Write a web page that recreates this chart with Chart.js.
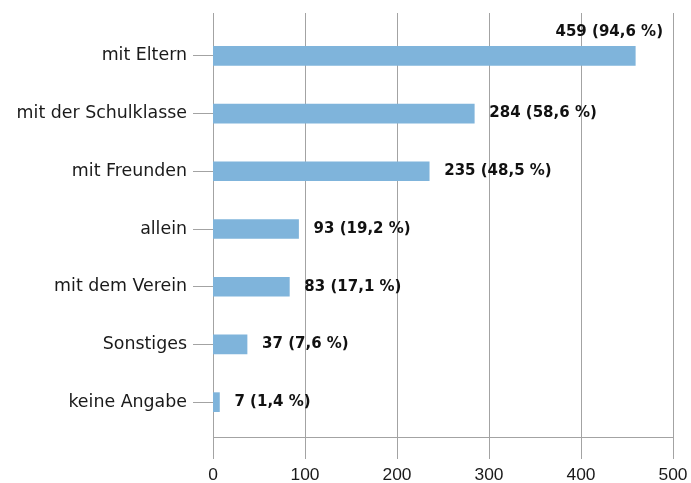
<!DOCTYPE html>
<html><head><meta charset="utf-8">
<script src="https://cdn.jsdelivr.net/npm/chart.js@4.4.0/dist/chart.umd.min.js"></script>
<style>html,body{margin:0;padding:0;background:#fff}#wrap{width:691px;height:483px}</style>
</head><body><div id="wrap"><canvas id="c" width="691" height="483"></canvas></div>
<script>
const categories = ['mit Eltern','mit der Schulklasse','mit Freunden','allein','mit dem Verein','Sonstiges','keine Angabe'];
const counts = [459, 284, 235, 93, 83, 37, 7];
const percents = [94.6, 58.6, 48.5, 19.2, 17.1, 7.6, 1.4];
const xTicks = [0, 100, 200, 300, 400, 500];

const GRID = '#a3a3a3';
const TEXT = '#1a1a1a';

const gridPlugin = {
  id: 'gridPlugin',
  beforeDatasetsDraw(chart) {
    const {ctx, chartArea: a, scales: {x}} = chart;
    ctx.save();
    ctx.strokeStyle = GRID;
    ctx.lineWidth = 1;
    ctx.beginPath();
    xTicks.forEach(v => {
      const px = Math.round(x.getPixelForValue(v)) + 0.5;
      ctx.moveTo(px, a.top - 14);
      ctx.lineTo(px, a.bottom + 28);
    });
    const py = Math.round(a.bottom + 6) + 0.5;
    ctx.moveTo(x.getPixelForValue(xTicks[0]), py);
    ctx.lineTo(x.getPixelForValue(xTicks[xTicks.length - 1]), py);
    ctx.stroke();
    ctx.restore();
  }
};

const labelPlugin = {
  id: 'labelPlugin',
  afterDatasetsDraw(chart) {
    const {ctx, chartArea: a} = chart;
    const meta = chart.getDatasetMeta(0);
    ctx.save();
    ctx.font = 'bold 15px "DejaVu Sans"';
    ctx.fillStyle = '#111';
    ctx.textBaseline = 'middle';
    meta.data.forEach((bar, i) => {
      const txt = counts[i] + ' (' + percents[i].toFixed(1).replace('.', ',') + ' %)';
      const w = ctx.measureText(txt).width;
      let lx = bar.x + 15, ly = bar.y;
      if (lx + w > a.right) {
        ctx.textAlign = 'right';
        lx = a.right - 10;
        ly = bar.y - 24;
      } else {
        ctx.textAlign = 'left';
      }
      ctx.fillText(txt, lx, ly);
    });
    ctx.restore();
  }
};

new Chart(document.getElementById('c'), {
  type: 'bar',
  data: {
    labels: categories,
    datasets: [{
      data: counts,
      backgroundColor: '#7fb4db',
      borderWidth: 0,
      barThickness: 19
    }]
  },
  options: {
    indexAxis: 'y',
    responsive: false,
    devicePixelRatio: 1,
    animation: false,
    layout: {padding: {top: 27, right: 18, left: 0, bottom: 0}},
    plugins: {legend: {display: false}, tooltip: {enabled: false}},
    scales: {
      x: {
        type: 'linear',
        min: 0,
        max: 500,
        afterBuildTicks: s => { s.ticks = xTicks.map(v => ({value: v})); },
        grid: {display: false, drawTicks: false, tickLength: 0},
        border: {display: false},
        ticks: {color: TEXT, font: {family: '"Liberation Sans"', size: 17.4}, padding: 34, maxRotation: 0},
        afterFit: s => { s.height = 52; s.paddingLeft = 0; s.paddingRight = 0; }
      },
      y: {
        type: 'category',
        grid: {display: true, drawOnChartArea: false, drawTicks: true, tickLength: 20, offset: false, color: GRID, lineWidth: 1},
        border: {display: false},
        ticks: {color: TEXT, font: {family: '"DejaVu Sans"', size: 17.4}, padding: 6},
        afterFit: s => { s.width = 213; s.paddingTop = 0; s.paddingBottom = 0; }
      }
    }
  },
  plugins: [gridPlugin, labelPlugin]
});
</script>
</body></html>
